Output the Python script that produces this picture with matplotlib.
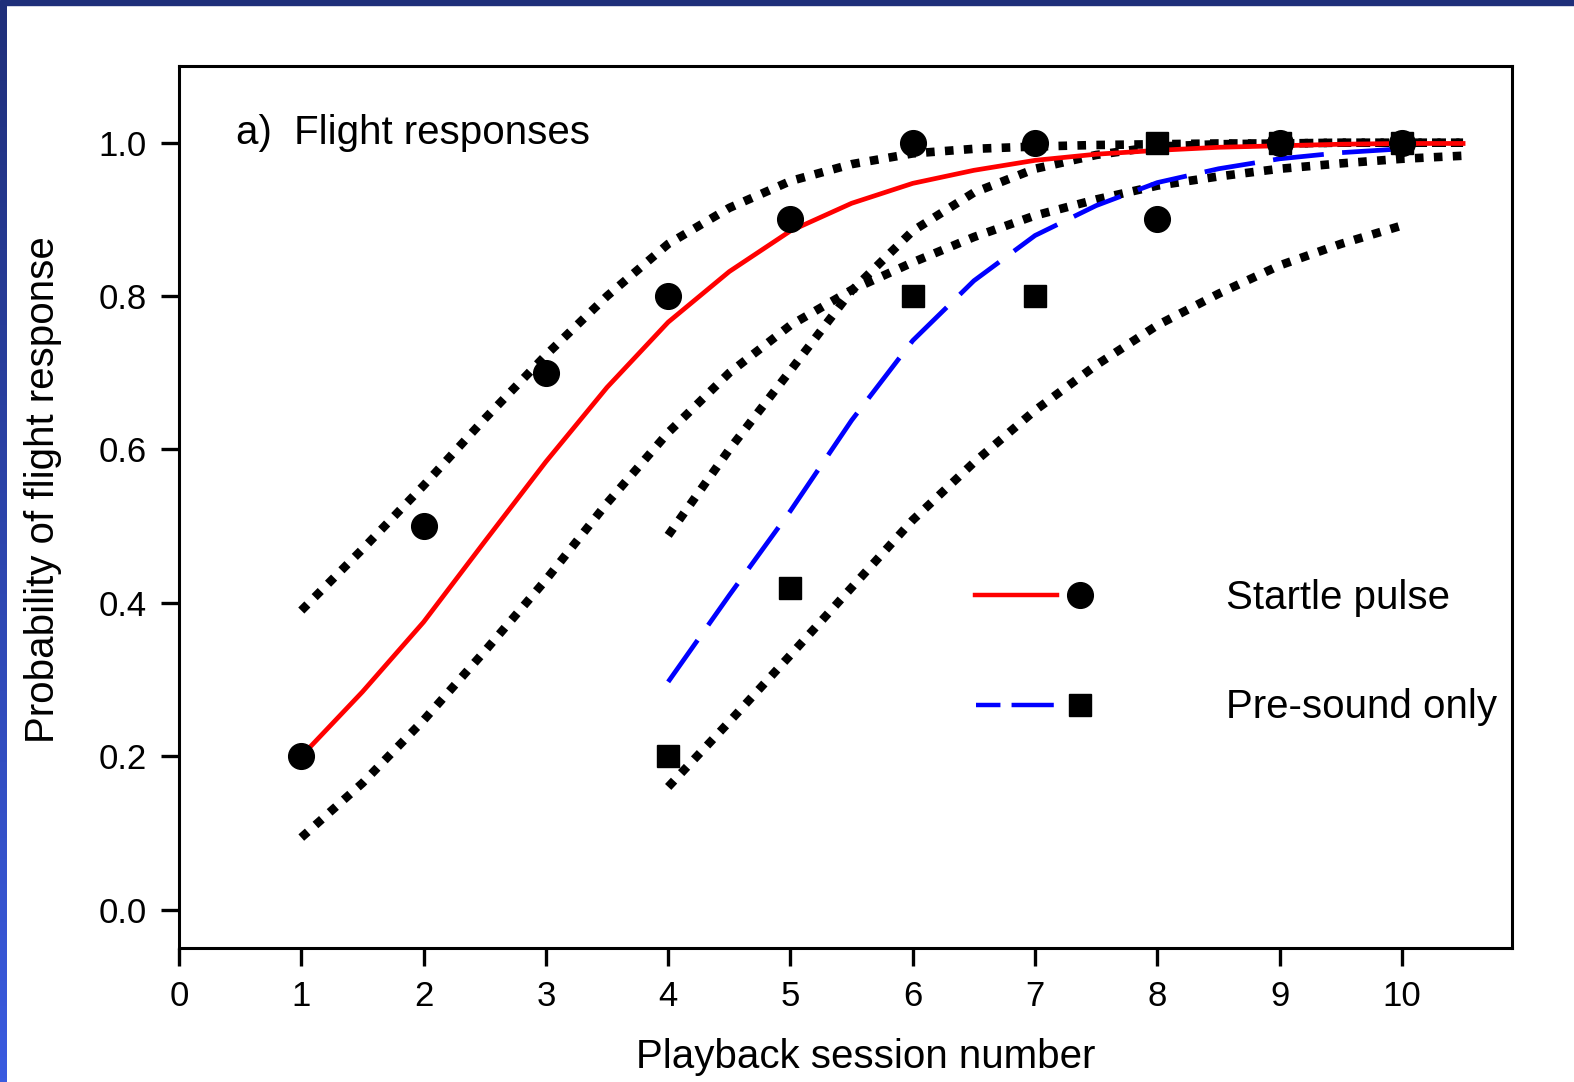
import numpy as np
import matplotlib
matplotlib.use('Agg')
import matplotlib.pyplot as plt
from matplotlib.patches import Rectangle
from matplotlib.colors import LinearSegmentedColormap

plt.rcParams['font.family'] = ['Liberation Sans', 'DejaVu Sans']

# observed proportions
sessions = [1, 2, 3, 4, 5, 6, 7, 8, 9, 10]
startle_obs = [0.2, 0.5, 0.7, 0.8, 0.9, 1.0, 1.0, 0.9, 1.0, 1.0]
pre_sessions = [4, 5, 6, 7, 8, 9, 10]
pre_obs = [0.2, 0.42, 0.8, 0.8, 1.0, 1.0, 1.0]

# fitted curve for startle pulse
fit_x = [1, 1.5, 2, 2.5, 3, 3.5, 4, 4.5, 5, 5.5, 6, 6.5, 7, 7.5, 8, 8.5, 9, 9.5, 10, 10.5]
startle_fit = [0.2, 0.284, 0.375, 0.48, 0.584, 0.681, 0.766, 0.832, 0.885, 0.921,
               0.947, 0.964, 0.977, 0.985, 0.990, 0.994, 0.996, 0.998, 0.999, 0.999]
startle_hi = [0.39, 0.47, 0.553, 0.64, 0.723, 0.80, 0.868, 0.915, 0.95, 0.972,
              0.986, 0.992, 0.995, 0.997, 0.998, 0.999, 0.999, 1.0, 1.0, 1.0]
startle_lo = [0.094, 0.165, 0.247, 0.337, 0.43, 0.53, 0.622, 0.70, 0.762, 0.808,
              0.844, 0.877, 0.905, 0.926, 0.944, 0.956, 0.966, 0.973, 0.979, 0.983]

# fitted curve for pre-sound only
pre_x = [4, 4.5, 5, 5.5, 6, 6.5, 7, 7.5, 8, 8.5, 9, 9.5, 10]
pre_fit = [0.297, 0.41, 0.52, 0.638, 0.742, 0.82, 0.879, 0.918, 0.948, 0.966, 0.979, 0.987, 0.992]
pre_hi_x = [4, 4.5, 5, 5.5, 6, 6.5, 7, 7.5, 8, 8.5, 9, 9.5, 10, 10.5]
pre_hi = [0.488, 0.60, 0.703, 0.807, 0.885, 0.935, 0.966, 0.984, 0.995, 0.998, 0.999, 1.0, 1.0, 1.0]
pre_lo = [0.16, 0.245, 0.332, 0.42, 0.508, 0.583, 0.651, 0.71, 0.762, 0.803, 0.84, 0.868, 0.892]

fig = plt.figure(figsize=(15.74, 10.82), dpi=100)
ax = fig.add_axes([179/1574, 1 - 948/1082, 1333/1574, 882/1082])

dot = dict(color='black', lw=6.2, dashes=(1, 1.2), dash_capstyle='butt')
ax.plot(fit_x, startle_hi, **dot)
ax.plot(fit_x, startle_lo, **dot)
ax.plot(pre_hi_x, pre_hi, **dot)
ax.plot(pre_x, pre_lo, **dot)

ax.plot(fit_x, startle_fit, color='red', lw=3.4)
ax.plot(pre_x, pre_fit, color='blue', lw=3.4, dashes=(10.8, 3.9))

ax.plot(sessions, startle_obs, 'o', color='black', ms=18.5, ls='none')
ax.plot(pre_sessions, pre_obs, 's', color='black', ms=16, ls='none')

# legend drawn by hand
ax.plot([6.51, 7.18], [0.41, 0.41], color='red', lw=3.2)
ax.plot([7.37], [0.41], 'o', color='black', ms=18.5)
ax.plot([6.52, 7.20], [0.267, 0.267], color='blue', lw=3.2, dashes=(5.5, 2.5, 9.5, 3))
ax.plot([7.37], [0.267], 's', color='black', ms=16)
ax.text(8.56, 0.406, 'Startle pulse', fontsize=29, va='center', ha='left')
ax.text(8.56, 0.264, 'Pre-sound only', fontsize=29, va='center', ha='left')

ax.text(0.465, 1.013, 'a)  Flight responses', fontsize=29, va='center', ha='left')

ax.set_xlim(0, 10.9)
ax.set_ylim(-0.05, 1.1)
ax.set_xticks(range(0, 11))
ax.set_yticks([0.0, 0.2, 0.4, 0.6, 0.8, 1.0])
ax.set_yticklabels(['0.0', '0.2', '0.4', '0.6', '0.8', '1.0'])
ax.tick_params(direction='out', length=13, width=2.4, labelsize=25, pad=10,
               top=False, right=False)
for s in ax.spines.values():
    s.set_linewidth(2.2)

ax.set_xlabel('Playback session number', fontsize=29)
ax.set_ylabel('Probability of flight response', fontsize=29)
ax.xaxis.set_label_coords(0.515, -0.102)
ax.yaxis.set_label_coords(-0.088, 0.52)

# blue frame on top and left
fig.patches.append(Rectangle((0, 1 - 5/1082), 1, 5/1082, transform=fig.transFigure,
                             color='#1f2f7a', zorder=5))
bar = fig.add_axes([0, 0, 7/1574, 1 - 5/1082])
cmap = LinearSegmentedColormap.from_list('edge', ['#3a5be0', '#1f2f7a'])
bar.imshow(np.linspace(0, 1, 256).reshape(-1, 1), cmap=cmap, aspect='auto', origin='lower')
bar.axis('off')

fig.savefig('out.png', dpi=100)
